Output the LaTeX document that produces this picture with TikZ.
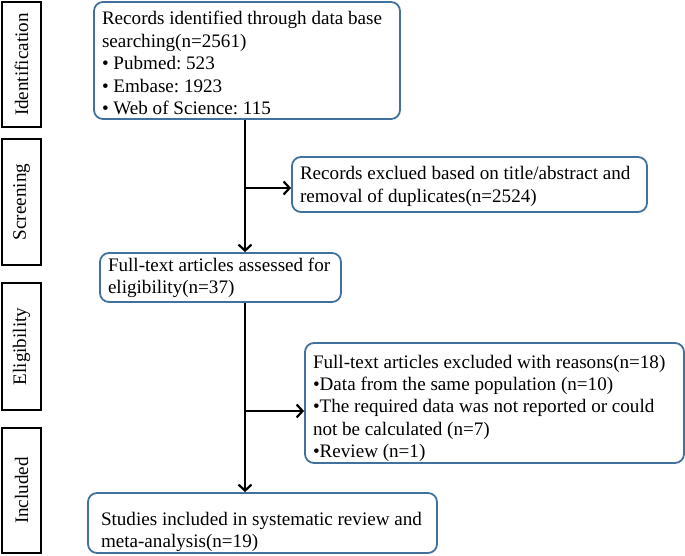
\documentclass[tikz,border=0pt]{standalone}
\usepackage{fontspec}
\setmainfont{Liberation Serif}
\usetikzlibrary{arrows.meta}
\definecolor{boxblue}{RGB}{65,113,156}
% #1 height, #2 width, #3 first baseline from top, #4 text
\newcommand\flowtext[4]{\parbox[c][#1][t]{#2}{\raggedright\frenchspacing\rule{0pt}{#3}#4}}
\begin{document}
\begin{tikzpicture}[x=1pt,y=1pt,
  txt/.style={font=\fontsize{19.1}{22.4}\selectfont},
  stage/.style={txt, draw=black, line width=2.2pt, rotate=90, inner sep=0pt, minimum height=39pt},
  flow/.style={txt, draw=boxblue, line width=1.8pt, rounded corners=9pt, inner ysep=0pt},
  arr/.style={draw=black, line width=2.2pt, -{Straight Barb[length=6pt,width=13pt,line width=2.2pt]}}
]
\useasboundingbox (0,0) rectangle (685,-556);

% stage labels
\node[stage, minimum width=125pt] (ident) at (21.5,-64.5) {Identification};
\node[stage, minimum width=126pt] (screen) at (21.5,-202) {Screening};
\node[stage, minimum width=127pt] (elig) at (21.5,-346.5) {Eligibility};
\node[stage, minimum width=125pt] (incl) at (21.5,-490.5) {Included};

% flow boxes
\node[flow, inner xsep=8pt] (b1) at (247,-60.5)
  {\flowtext{117pt}{290pt}{23pt}{Records identified through data base\\ searching(n=2561)\\
   • Pubmed: 523\\
   • Embase: 1923\\
   • Web of Science: 115}};
\node[flow, inner xsep=8pt] (b2) at (469.5,-184.5)
  {\flowtext{55pt}{339pt}{23pt}{Records exclued based on title/abstract and\\ removal of duplicates(n=2524)}};
\node[flow, inner xsep=8pt] (b3) at (220.5,-277.5)
  {\flowtext{49pt}{225pt}{18pt}{Full-text articles assessed for\\ eligibility(n=37)}};
\node[flow, inner xsep=8pt] (b4) at (494.5,-403)
  {\flowtext{120pt}{363pt}{25pt}{Full-text articles excluded with reasons(n=18)\\
   •Data from the same population (n=10)\\
   •The required data was not reported or could\\ not be calculated (n=7)\\
   •Review (n=1)}};
\node[flow, inner xsep=13pt] (b5) at (262.5,-523)
  {\flowtext{60pt}{323pt}{32pt}{Studies included in systematic review and\\ meta-analysis(n=19)}};

% connectors
\coordinate (spine) at (245,0);
\coordinate (br1) at (245,-188);
\coordinate (br2) at (245,-411);
\draw[arr] (b1.south -| spine) -- (b3.north -| spine);
\draw[arr] (br1) -- (br1 -| b2.west);
\draw[arr] (b3.south -| spine) -- (b5.north -| spine);
\draw[arr] (br2) -- (br2 -| b4.west);
\end{tikzpicture}
\end{document}
